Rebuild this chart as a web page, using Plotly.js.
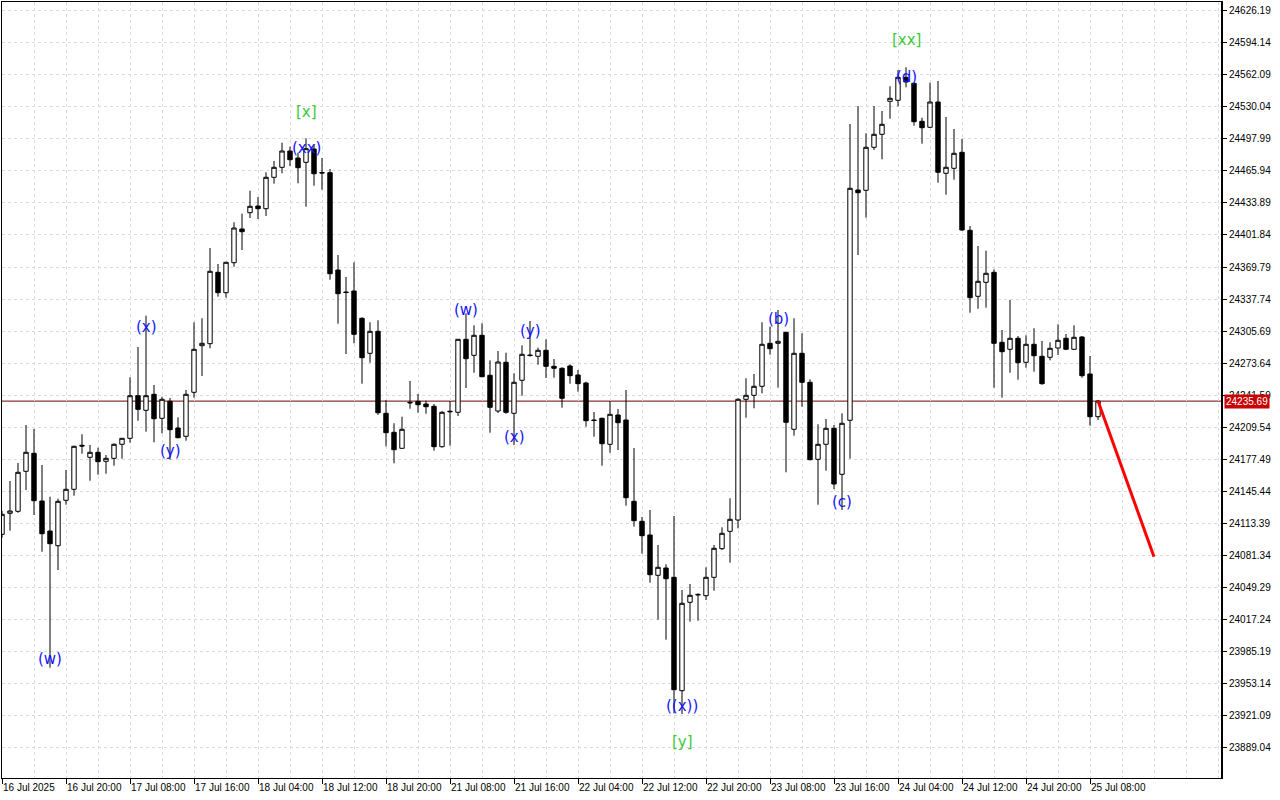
<!DOCTYPE html>
<html>
<head>
<meta charset="utf-8">
<script src="https://cdn.plot.ly/plotly-3.0.1.min.js"></script>
<style>
  html, body { margin: 0; padding: 0; background: #ffffff; }
  #chart { width: 1280px; height: 800px; }
</style>
</head>
<body>
<div id="chart"></div>
<script>
// ---- Data (H1 bars, index 0..137) ----
const barOpen = [
24102.5,24123.5,24125.5,24165.5,24183.5,24135.8,24105.8,24091.1,24136.5,24147.5,
24191.5,24179.5,24184.5,24175.5,24178.5,24192.5,24198.5,24241.1,24226.5,24242.5,
24218.5,24235.5,24208.8,24200.5,24244.5,24291.1,24293.1,24364.5,24344.1,24374.1,
24407.8,24424.1,24430.8,24428.1,24459.5,24469.5,24485.8,24478.8,24474.5,24487.8,
24464.3,24464.1,24366.8,24344.8,24345.8,24318.5,24283.5,24305.5,24223.5,24204.5,
24188.5,24234.5,24235.5,24232.8,24230.5,24190.1,24225.6,24224.5,24297.5,24281.5,
24301.5,24261.5,24225.8,24274.5,24223.5,24256.5,24281.8,24280.5,24286.5,24270.5,
24268.5,24270.8,24261.8,24253.8,24216.8,24218.5,24192.5,24221.8,24216.8,24135.5,
24115.5,24101.8,24061.5,24068.8,24059.5,23946.1,24034.5,24042.4,24041.1,24059.5,
24088.1,24105.5,24116.8,24237.5,24241.5,24250.5,24293.5,24293.5,24304.5,24207.5,
24283.5,24254.5,24177.5,24192.5,24208.5,24162.5,24216.5,24446.8,24446.5,24489.5,
24502.5,24535.5,24536.5,24559.5,24553.5,24515.5,24509.5,24534.8,24463.5,24468.5,
24484.5,24406.5,24340.5,24354.5,24364.5,24294.5,24287.5,24298.5,24274.5,24292.5,
24280.5,24279.5,24288.8,24298.5,24287.5,24299.8,24262.8,24220.1
];
const barHigh = [
24126.0,24155.8,24173.8,24211.8,24207.8,24171.8,24140.1,24138.1,24166.8,24191.0,
24202.5,24191.8,24189.1,24181.8,24193.5,24198.8,24259.5,24289.8,24321.1,24251.8,
24240.1,24238.8,24219.5,24246.8,24314.5,24318.5,24388.8,24372.8,24375.0,24414.5,
24423.1,24446.1,24439.8,24464.5,24475.8,24494.1,24490.1,24484.1,24498.5,24492.1,
24478.8,24467.8,24381.8,24359.8,24374.5,24319.5,24314.5,24316.5,24236.8,24213.5,
24220.1,24255.8,24242.8,24236.1,24232.8,24225.8,24235.8,24297.8,24323.5,24311.5,
24313.5,24276.5,24285.8,24284.1,24263.5,24291.5,24315.8,24289.1,24297.5,24277.8,
24269.5,24272.5,24266.8,24255.1,24224.8,24219.1,24235.8,24227.8,24246.8,24188.8,
24119.8,24126.8,24091.8,24072.5,24120.8,24046.8,24052.8,24043.5,24069.5,24091.8,
24109.5,24138.5,24238.5,24258.5,24262.8,24314.5,24310.1,24326.8,24305.0,24318.5,
24303.5,24257.5,24212.5,24217.8,24211.8,24223.5,24512.8,24530.8,24503.5,24530.8,
24525.8,24550.5,24566.8,24569.5,24554.0,24519.1,24554.1,24555.8,24519.8,24507.8,
24497.8,24410.8,24390.8,24386.1,24367.5,24306.8,24336.8,24300.8,24301.5,24308.5,
24295.8,24294.5,24312.5,24302.8,24311.5,24300.8,24280.8,24236.8
];
const barLow = [
24099.0,24106.1,24124.0,24146.8,24121.8,24085.1,23969.1,24066.8,24132.1,24141.1,
24183.1,24156.1,24162.1,24163.1,24171.1,24178.1,24194.1,24216.1,24205.1,24194.5,
24203.5,24177.1,24198.5,24196.1,24239.1,24260.8,24288.5,24340.1,24339.1,24370.1,
24386.8,24418.8,24417.8,24420.8,24453.1,24463.5,24470.8,24453.5,24430.1,24451.1,
24447.1,24357.1,24313.1,24282.8,24293.5,24253.1,24274.1,24222.0,24190.5,24173.5,
24188.0,24228.1,24224.1,24223.1,24186.1,24189.1,24191.1,24220.8,24248.8,24264.1,
24259.5,24204.1,24223.8,24223.0,24191.8,24241.1,24280.1,24272.1,24258.8,24259.1,
24229.1,24253.1,24245.1,24210.1,24200.1,24171.1,24184.1,24186.8,24131.1,24110.1,
24083.1,24054.1,24017.1,23997.1,23923.5,23922.8,24015.1,24016.1,24036.8,24046.1,
24086.8,24074.1,24108.5,24219.1,24228.5,24243.5,24282.1,24249.1,24164.5,24201.1,
24230.1,24176.5,24132.1,24166.1,24147.8,24126.8,24178.1,24381.8,24419.1,24486.8,
24477.5,24518.1,24530.5,24549.5,24511.1,24493.1,24509.0,24454.1,24442.1,24457.1,
24406.0,24324.1,24328.1,24329.1,24249.1,24239.1,24264.1,24257.1,24269.1,24265.1,
24252.1,24276.5,24281.8,24287.0,24287.0,24259.1,24211.1,24216.8
];
const barClose = [
24122.5,24125.8,24164.5,24184.5,24136.1,24103.1,24093.1,24135.5,24147.5,24190.5,
24190.8,24184.5,24175.1,24178.5,24192.5,24198.5,24241.1,24227.5,24241.1,24218.1,
24237.5,24207.1,24199.1,24242.5,24287.5,24293.5,24365.5,24344.1,24374.5,24408.8,
24405.1,24430.5,24428.1,24459.5,24469.5,24485.8,24477.1,24469.1,24488.1,24463.1,
24463.8,24363.1,24343.1,24344.3,24302.5,24279.1,24305.5,24224.1,24204.1,24187.1,
24207.5,24234.0,24232.1,24230.1,24190.1,24224.5,24225.1,24297.5,24278.1,24301.5,
24260.1,24229.5,24274.8,24224.5,24254.5,24282.5,24281.3,24286.5,24270.5,24268.5,
24238.5,24261.1,24253.1,24216.1,24216.3,24193.1,24222.5,24214.1,24139.1,24116.1,
24101.1,24062.1,24069.5,24058.1,23947.1,24033.5,24041.5,24042.0,24059.5,24088.5,
24103.5,24117.5,24237.5,24241.5,24250.5,24292.5,24288.1,24295.5,24214.5,24283.5,
24254.5,24177.1,24192.5,24208.5,24152.8,24213.5,24448.5,24444.1,24489.5,24502.5,
24512.5,24538.5,24559.5,24554.8,24515.1,24509.1,24534.8,24464.5,24469.5,24483.5,
24406.8,24339.1,24355.5,24363.5,24293.5,24285.1,24298.5,24274.1,24292.5,24281.1,
24253.1,24288.5,24296.5,24287.5,24299.5,24261.1,24220.1,24235.69
];

// x-axis tick labels (every 8 bars)
const timeTickIdx = [0,8,16,24,32,40,48,56,64,72,80,88,96,104,112,120,128,136];
const timeTickText = ['16 Jul 2025','16 Jul 20:00','17 Jul 08:00','17 Jul 16:00','18 Jul 04:00',
  '18 Jul 12:00','18 Jul 20:00','21 Jul 08:00','21 Jul 16:00','22 Jul 04:00','22 Jul 12:00',
  '22 Jul 20:00','23 Jul 08:00','23 Jul 16:00','24 Jul 04:00','24 Jul 12:00','24 Jul 20:00','25 Jul 08:00'];

// price scale labels
const priceTicks = [23889.04,23921.09,23953.14,23985.19,24017.24,24049.29,24081.34,24113.39,
  24145.44,24177.49,24209.54,24241.59,24273.64,24305.69,24337.74,24369.79,24401.84,24433.89,
  24465.94,24497.99,24530.04,24562.09,24594.14,24626.19];

const lastPrice = 24235.69;

// projection line
const projX = [137, 144];
const projY = [24235.69, 24080.1];

// wave labels (blue)
const waveText = ['(w)','(x)','(y)','(xx)','(w)','(x)','(y)','((x))','(b)','(c)','(d)'];
const waveX    = [6, 18, 21, 38, 58, 64, 66, 85, 97, 105, 113];
const waveY    = [23977.8, 24310.1, 24186.3, 24488.5, 24326.8, 24199.8, 24306.3, 23931.3, 24317.6, 24135.0, 24560.3];
// wave labels (green)
const degText = ['[x]','[y]','[xx]'];
const degX    = [38, 85, 113];
const degY    = [24525.1, 23894.8, 24597.3];

// ---- Build ----
const idx = barOpen.map((_, i) => i);

const candles = {
  type: 'candlestick',
  x: idx, open: barOpen, high: barHigh, low: barLow, close: barClose,
  increasing: { line: { color: '#000000', width: 1 }, fillcolor: '#ffffff' },
  decreasing: { line: { color: '#000000', width: 1 }, fillcolor: '#000000' },
  whiskerwidth: 0,
  hoverinfo: 'none',
  showlegend: false
};

const proj = {
  type: 'scatter', mode: 'lines',
  x: projX, y: projY,
  line: { color: '#ff0000', width: 3 },
  hoverinfo: 'none', showlegend: false
};

const gridCol = '#dcdcdc';

const annotations = [];
waveText.forEach((t, i) => annotations.push({
  x: waveX[i], y: waveY[i], xref: 'x', yref: 'y', text: t, showarrow: false,
  xanchor: 'center', yanchor: 'middle',
  font: { family: 'DejaVu Sans', size: 15, color: '#1414ff' }
}));
degText.forEach((t, i) => annotations.push({
  x: degX[i], y: degY[i], xref: 'x', yref: 'y', text: t, showarrow: false,
  xanchor: 'center', yanchor: 'middle',
  font: { family: 'DejaVu Sans', size: 15, color: '#3cc83c' }
}));
annotations.push({
  x: 1, y: lastPrice, xref: 'paper', yref: 'y', text: lastPrice.toFixed(2),
  showarrow: false, xanchor: 'left', yanchor: 'middle', xshift: 2,
  bgcolor: '#c80000', borderpad: 1,
  font: { family: 'Liberation Sans', size: 10, color: '#ffffff' }
});

const layout = {
  width: 1280, height: 800,
  margin: { l: 2, r: 58, t: 2, b: 22 },
  paper_bgcolor: '#ffffff', plot_bgcolor: '#ffffff',
  font: { family: 'Liberation Sans', size: 10, color: '#000000' },
  showlegend: false,
  boxgap: 0.45, boxgroupgap: 0,
  xaxis: {
    type: 'linear', range: [0, 152.5],
    rangeslider: { visible: false },
    tickmode: 'array', tickvals: timeTickIdx, ticktext: timeTickText,
    ticklabelposition: 'outside right',
    ticks: 'outside', ticklen: 5, tickcolor: '#000000', tickwidth: 1,
    showgrid: true, gridcolor: gridCol, griddash: '3px,3px', gridwidth: 1,
    minor: { dtick: 4, tick0: 0, showgrid: true, gridcolor: gridCol, griddash: '3px,3px', ticks: '' },
    showline: true, linecolor: '#000000', linewidth: 1, mirror: true,
    zeroline: false, fixedrange: true
  },
  yaxis: {
    side: 'right', range: [23858.8, 24634.8],
    tickmode: 'array', tickvals: priceTicks, ticktext: priceTicks.map(v => v.toFixed(2)),
    ticks: 'outside', ticklen: 4, tickcolor: '#000000',
    showgrid: true, gridcolor: gridCol, griddash: '3px,3px', gridwidth: 1,
    showline: true, linecolor: '#000000', linewidth: 1, mirror: true,
    zeroline: false, fixedrange: true
  },
  shapes: [
    { type: 'line', xref: 'paper', yref: 'y', x0: 0, x1: 1, y0: lastPrice, y1: lastPrice,
      line: { color: '#6e0000', width: 1 }, layer: 'below' },
    { type: 'line', xref: 'paper', yref: 'paper', x0: 1, x1: 1, y0: 0, y1: 1,
      line: { color: '#000000', width: 2 } }
  ],
  annotations: annotations
};

Plotly.newPlot('chart', [candles, proj], layout, { staticPlot: true, displayModeBar: false });
</script>
</body>
</html>
